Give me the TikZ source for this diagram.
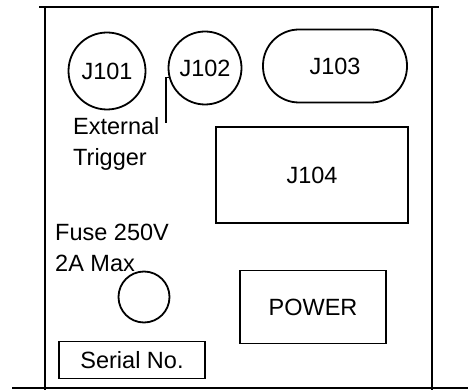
\documentclass[tikz,border=0pt]{standalone}
\usepackage{fontspec}
\setmainfont{Liberation Sans}
\usepackage{tikz}
\usetikzlibrary{calc}

\begin{document}
\begin{tikzpicture}[x=1pt,y=-1pt,
  every node/.style={font=\fontsize{23.5}{31}\selectfont},
  jack/.style={draw,circle,line width=1.8pt,inner sep=0pt},
  panelbox/.style={draw,rectangle,line width=1.8pt,inner sep=0pt},
  legend/.style={anchor=north west,align=left,inner sep=0pt}]
\useasboundingbox (0,0) rectangle (468,390);
\draw[line width=2.2pt] (39,7) -- (439,7);
\draw[line width=2.2pt] (45,7) -- (45,390);
\draw[line width=2.2pt] (432,7) -- (432,390);
\draw[line width=2.2pt] (12,388) -- (468,388);
\node[jack,minimum size=77pt] (j101) at (107,71) {J101};
\node[jack,minimum size=73pt] (j102) at (205,68) {J102};
\node[panelbox,rounded corners=36pt,minimum width=144pt,minimum height=73pt] (j103) at (335,66) {J103};
\node[panelbox,minimum width=192pt,minimum height=96pt] (j104) at (312,175) {J104};
\node[legend] (trig) at (73,117) {External\\Trigger};
\coordinate (trigend) at (166,123);
\draw[line width=1.5pt] (j102.195) -| (trigend);
\node[legend] (fuselbl) at (55,224) {Fuse 250V\\2A Max};
\node[jack,minimum size=51pt] (fuse) at (144,297) {};
\node[panelbox,minimum width=146pt,minimum height=73pt] (power) at (313,307) {POWER};
\node[panelbox,minimum width=146pt,minimum height=37pt] (serial) at (132,360) {Serial No.};
\end{tikzpicture}
\end{document}
